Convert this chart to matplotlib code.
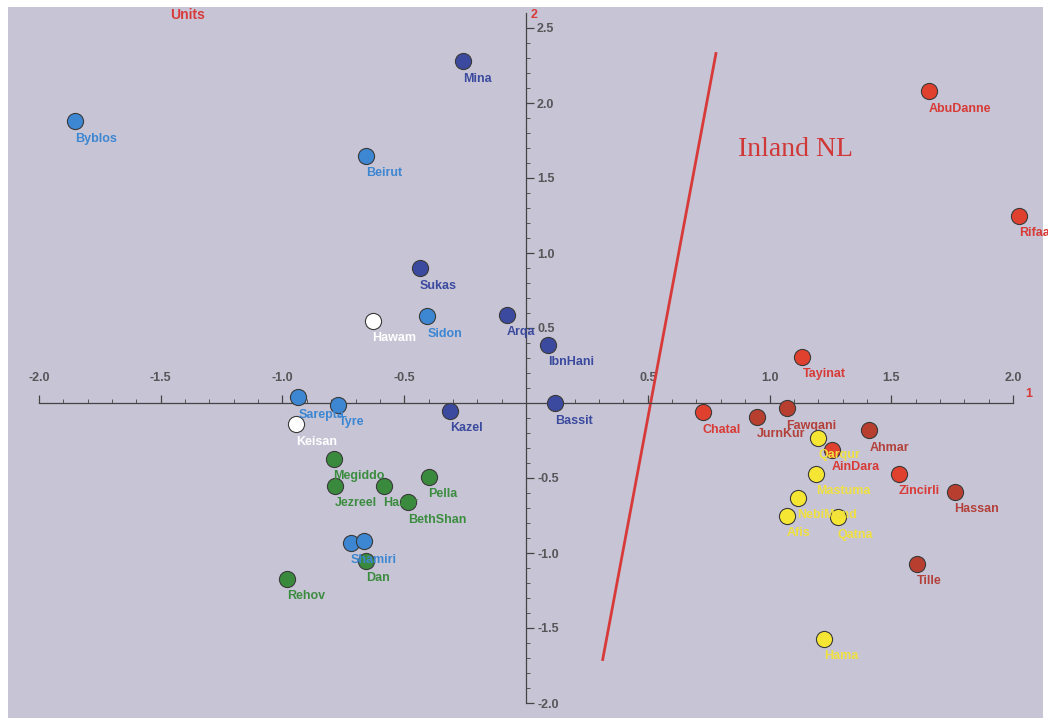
import matplotlib
matplotlib.use("Agg")
import matplotlib.pyplot as plt
from matplotlib.ticker import FixedLocator

plt.rcParams['font.family'] = ['Liberation Sans', 'DejaVu Sans']

# ---- data (component 1, component 2) ----
coast_n_names = ["Mina", "Sukas", "Arqa", "IbnHani", "Bassit", "Kazel"]
coast_n_x = [-0.26, -0.435, -0.08, 0.09, 0.12, -0.31]
coast_n_y = [2.28, 0.90, 0.59, 0.39, 0.00, -0.05]

phoen_names = ["Byblos", "Beirut", "Sidon", "Sarepta", "Tyre", "Shamiri", ""]
phoen_x = [-1.85, -0.655, -0.405, -0.935, -0.77, -0.72, -0.665]
phoen_y = [1.88, 1.65, 0.58, 0.04, -0.01, -0.93, -0.92]

white_names = ["Hawam", "Keisan"]
white_x = [-0.63, -0.945]
white_y = [0.55, -0.14]

green_names = ["Megiddo", "Jezreel", "Hazor", "Pella", "BethShan", "Dan", "Rehov"]
green_x = [-0.79, -0.785, -0.585, -0.40, -0.485, -0.655, -0.98]
green_y = [-0.37, -0.55, -0.55, -0.49, -0.66, -1.05, -1.17]

red_names = ["AbuDanne", "Rifaat", "Tayinat", "Chatal", "AinDara", "Zincirli"]
red_x = [1.655, 2.025, 1.135, 0.725, 1.255, 1.53]
red_y = [2.08, 1.25, 0.31, -0.06, -0.31, -0.47]

dred_names = ["JurnKur", "Fawqani", "Ahmar", "Hassan", "Tille"]
dred_x = [0.95, 1.07, 1.41, 1.76, 1.605]
dred_y = [-0.09, -0.035, -0.18, -0.59, -1.07]

yellow_names = ["Qarqur", "Mastuma", "NebiMend", "Afis", "Qatna", "Hama"]
yellow_x = [1.20, 1.19, 1.115, 1.07, 1.28, 1.225]
yellow_y = [-0.23, -0.47, -0.63, -0.75, -0.76, -1.57]

divider_x = [0.315, 0.78]
divider_y = [-1.71, 2.33]

x_ticks = [-2.0, -1.5, -1.0, -0.5, 0.5, 1.0, 1.5, 2.0]
y_ticks = [-2.0, -1.5, -1.0, -0.5, 0.5, 1.0, 1.5, 2.0, 2.5]

# ---- figure ----
fig = plt.figure(figsize=(10.48, 7.23), dpi=100)
fig.patch.set_facecolor("white")
ax = fig.add_axes([8/1048, 5/723, 1035/1048, 711/723])
ax.set_facecolor("#C7C5D5")
ax.set_xlim(-2.127, 2.123)
ax.set_ylim(-2.1, 2.64)

for s in ["bottom", "left"]:
    ax.spines[s].set_visible(False)
ax.spines["top"].set_position(("data", 0))
ax.spines["right"].set_position(("data", 0))
ax.spines["top"].set_bounds(-2.0, 2.0)
ax.spines["right"].set_bounds(-2.0, 2.6)
for s in ["top", "right"]:
    ax.spines[s].set_color("#444444")
    ax.spines[s].set_linewidth(0.9)
ax.xaxis.set_ticks_position("top")
ax.yaxis.set_ticks_position("right")
ax.xaxis.set_major_locator(FixedLocator(x_ticks))
ax.yaxis.set_major_locator(FixedLocator(y_ticks))
ax.xaxis.set_minor_locator(FixedLocator([i / 10 for i in range(-20, 21)]))
ax.yaxis.set_minor_locator(FixedLocator([i / 10 for i in range(-20, 26)]))
ax.set_xticklabels([f"{v:.1f}" for v in x_ticks])
ax.set_yticklabels([f"{v:.1f}" for v in y_ticks])
ax.tick_params(axis="both", which="major", length=6, width=0.9, color="#444444",
               labelsize=9, labelcolor="#3A3A3A", direction="out")
ax.tick_params(axis="both", which="minor", length=3, width=0.7, color="#555555",
               direction="out")
ax.tick_params(axis="x", which="major", pad=8)
ax.tick_params(axis="y", which="major", pad=2)
for lbl in ax.get_xticklabels() + ax.get_yticklabels():
    lbl.set_fontweight("bold")
    lbl.set_alpha(0.8)

# divider line
ax.plot(divider_x, divider_y, color="#D83A3A", lw=2.0, zorder=2)


def draw(xs, ys, names, face, tcolor, order=3):
    ax.scatter(xs, ys, s=135, c=face, edgecolors="#3A3A3A", linewidths=0.8,
               zorder=order)
    for x, y, n in zip(xs, ys, names):
        if n:
            ax.annotate(n, (x, y), xytext=(0, -8.5), textcoords="offset points",
                        ha="left", va="top", fontsize=9, fontweight="bold",
                        color=tcolor, zorder=order + 1, annotation_clip=False)


draw(coast_n_x, coast_n_y, coast_n_names, "#3B4A9E", "#3B4A9E")
draw(phoen_x, phoen_y, phoen_names, "#3C86D2", "#3C86D2")
draw(white_x, white_y, white_names, "#FFFFFF", "#FFFFFF")
draw(green_x, green_y, green_names, "#3A8A3E", "#3C8C40")
draw(red_x, red_y, red_names, "#E0402E", "#D83A36")
draw(dred_x, dred_y, dred_names, "#B83E30", "#B3403A")
draw(yellow_x, yellow_y, yellow_names, "#F6E634", "#F0E040", order=5)

# texts
ax.text(0.87, 1.69, "Inland NL", family=["Liberation Serif", "DejaVu Serif"],
        fontsize=20, color="#D03838", ha="left", va="center")
ax.text(-1.462, 2.59, "Units", fontsize=10, fontweight="bold", color="#D83A3A",
        ha="left", va="center")
ax.text(0.02, 2.59, "2", fontsize=9, fontweight="bold", color="#D83A3A",
        ha="left", va="center")
ax.text(2.05, 0.06, "1", fontsize=9, fontweight="bold", color="#D83A3A",
        ha="left", va="center")

fig.savefig("out.png", dpi=100, facecolor="white")
